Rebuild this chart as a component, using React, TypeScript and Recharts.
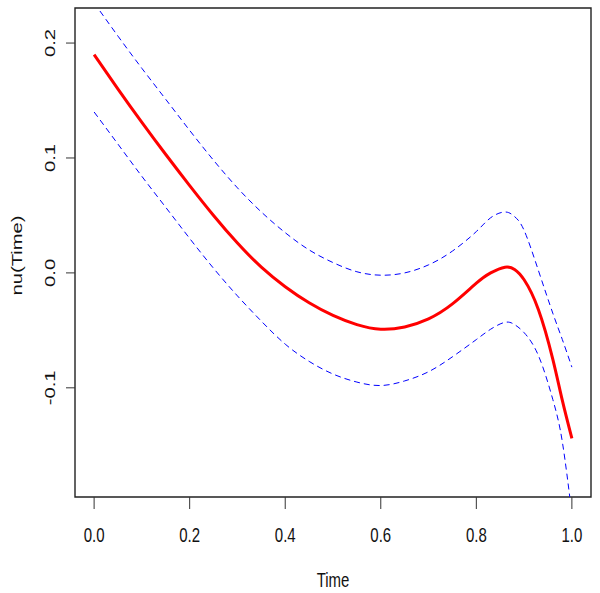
import React from 'react';
import { LineChart, Line, XAxis, YAxis, ReferenceArea, Label } from 'recharts';

const timeValues = [0, 0.05, 0.1, 0.15, 0.2, 0.25, 0.3, 0.35, 0.4, 0.45, 0.5, 0.55, 0.6, 0.65, 0.7, 0.75, 0.8, 0.83, 0.86, 0.88, 0.9, 0.93, 0.96, 0.98, 1.0];
const fitValues = [0.19, 0.16, 0.131, 0.103, 0.076, 0.05, 0.026, 0.005, -0.012, -0.026, -0.037, -0.045, -0.049, -0.047, -0.04, -0.027, -0.009, 0.0, 0.005, 0.003, -0.006, -0.032, -0.075, -0.111, -0.144];
const upperValues = [0.235, 0.206, 0.178, 0.151, 0.124, 0.098, 0.074, 0.053, 0.035, 0.02, 0.009, 0.001, -0.002, 0.0, 0.007, 0.019, 0.036, 0.048, 0.053, 0.049, 0.037, 0.002, -0.035, -0.058, -0.082];
const lowerValues = [0.14, 0.112, 0.084, 0.057, 0.03, 0.004, -0.02, -0.042, -0.062, -0.077, -0.088, -0.095, -0.098, -0.094, -0.086, -0.073, -0.058, -0.049, -0.043, -0.045, -0.052, -0.072, -0.11, -0.147, -0.21];

const xTicks = [0, 0.2, 0.4, 0.6, 0.8, 1.0];
const yTicks = [-0.1, 0, 0.1, 0.2];

const X_DOMAIN: [number, number] = [-0.04, 1.04];
const Y_DOMAIN: [number, number] = [-0.195, 0.2305];

const FONT = '"Liberation Sans", Arial, sans-serif';
const STRETCH = 1.35;

const rows = timeValues.map((t, i) => ({
  t,
  fit: fitValues[i],
  upper: upperValues[i],
  lower: lowerValues[i],
}));

const XTick = ({ x, y, payload }: any) => (
  <text
    transform={`translate(${x},${y + 30.5}) scale(1,${STRETCH})`}
    textAnchor="middle"
    fontFamily={FONT}
    fontSize={15}
    fill="#111"
  >
    {payload.value.toFixed(1)}
  </text>
);

const YTick = ({ x, y, payload }: any) => (
  <text
    transform={`translate(${x - 9},${y}) scale(1,${STRETCH}) rotate(-90)`}
    textAnchor="middle"
    fontFamily={FONT}
    fontSize={15}
    fill="#111"
  >
    {payload.value.toFixed(1)}
  </text>
);

const XTitle = ({ viewBox }: any) => (
  <text
    transform={`translate(${viewBox.x + viewBox.width / 2},${viewBox.y + 89.7}) scale(1,${STRETCH})`}
    textAnchor="middle"
    fontFamily={FONT}
    fontSize={15}
    fill="#111"
  >
    Time
  </text>
);

const YTitle = ({ viewBox }: any) => (
  <text
    transform={`translate(22,${viewBox.y + viewBox.height / 2 + 3}) scale(1,${STRETCH}) rotate(-90)`}
    textAnchor="middle"
    fontFamily={FONT}
    fontSize={15}
    fill="#111"
  >
    nu(Time)
  </text>
);

export default function App() {
  return (
    <div style={{ position: 'absolute', left: 0, top: 0, background: '#fff' }}>
      <LineChart width={600} height={593} data={rows} margin={{ top: 8, right: 9, bottom: 0, left: 0 }}>
        <XAxis
          type="number"
          dataKey="t"
          domain={X_DOMAIN}
          ticks={xTicks}
          allowDataOverflow
          height={96}
          tickSize={12}
          axisLine={false}
          stroke="#333"
          tick={<XTick />}
        >
          <Label content={<XTitle />} />
        </XAxis>
        <YAxis
          type="number"
          domain={Y_DOMAIN}
          ticks={yTicks}
          allowDataOverflow
          width={75}
          tickSize={9}
          axisLine={false}
          stroke="#333"
          tick={<YTick />}
        >
          <Label content={<YTitle />} />
        </YAxis>
        <ReferenceArea
          x1={X_DOMAIN[0]}
          x2={X_DOMAIN[1]}
          y1={Y_DOMAIN[0]}
          y2={Y_DOMAIN[1]}
          fill="none"
          stroke="#222"
          strokeWidth={1.4}
        />
        <Line type="natural" dataKey="upper" stroke="#0000ff" strokeWidth={1} strokeDasharray="6 4" dot={false} isAnimationActive={false} />
        <Line type="natural" dataKey="lower" stroke="#0000ff" strokeWidth={1} strokeDasharray="6 4" dot={false} isAnimationActive={false} />
        <Line type="natural" dataKey="fit" stroke="#ff0000" strokeWidth={3} dot={false} isAnimationActive={false} />
      </LineChart>
    </div>
  );
}
